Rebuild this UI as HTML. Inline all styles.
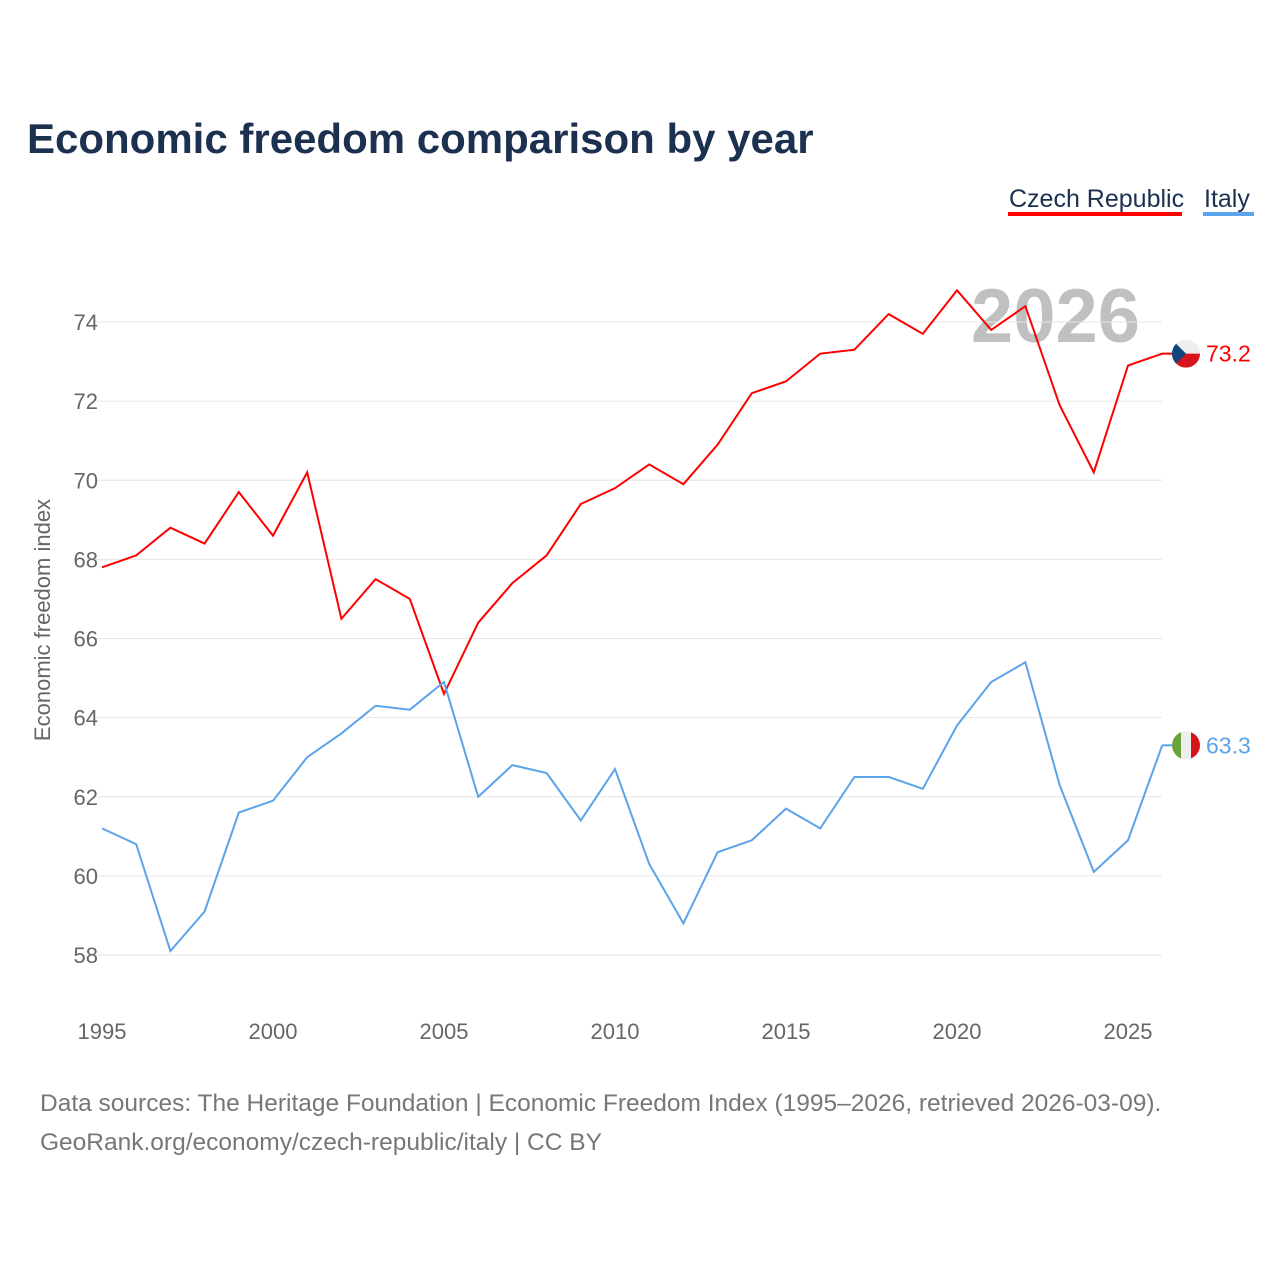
<!DOCTYPE html>
<html><head><meta charset="utf-8">
<style>
body{margin:0;background:#fff;font-family:"Liberation Sans",sans-serif;}
svg text{font-family:"Liberation Sans",sans-serif;}
</style></head>
<body>
<svg id="chart" width="1280" height="1280" viewBox="0 0 1280 1280">
<text x="27" y="153" font-size="42" font-weight="bold" fill="#1c3050">Economic freedom comparison by year</text>
<g>
<text x="1009" y="207" font-size="25" fill="#1c3050">Czech Republic</text>
<rect x="1008" y="212" width="174" height="4" fill="#ff0000"/>
<text x="1204" y="207" font-size="25" fill="#1c3050">Italy</text>
<rect x="1203" y="212" width="51" height="4" fill="#5ba3ea"/>
</g>
<text x="1140" y="342" text-anchor="end" font-size="76" font-weight="bold" fill="#c0c0c0">2026</text>
<g id="grid"></g><g id="yt"></g><g id="xt"></g><g id="lines"></g>
<text transform="translate(50,620) rotate(-90)" text-anchor="middle" font-size="22" fill="#666">Economic freedom index</text>
<text x="40" y="1111" font-size="24.5" fill="#777">Data sources: The Heritage Foundation | Economic Freedom Index (1995–2026, retrieved 2026-03-09).</text>
<text x="40" y="1150" font-size="24.5" fill="#777">GeoRank.org/economy/czech-republic/italy | CC BY</text>
</svg>
<script>
const years=[1995,1996,1997,1998,1999,2000,2001,2002,2003,2004,2005,2006,2007,2008,2009,2010,2011,2012,2013,2014,2015,2016,2017,2018,2019,2020,2021,2022,2023,2024,2025,2026];
const czech=[67.8,68.1,68.8,68.4,69.7,68.6,70.2,66.5,67.5,67.0,64.6,66.4,67.4,68.1,69.4,69.8,70.4,69.9,70.9,72.2,72.5,73.2,73.3,74.2,73.7,74.8,73.8,74.4,71.9,70.2,72.9,73.2];
const italy=[61.2,60.8,58.1,59.1,61.6,61.9,63.0,63.6,64.3,64.2,64.9,62.0,62.8,62.6,61.4,62.7,60.3,58.8,60.6,60.9,61.7,61.2,62.5,62.5,62.2,63.8,64.9,65.4,62.3,60.1,60.9,63.3];
const yTicks=[58,60,62,64,66,68,70,72,74];
const xTicks=[1995,2000,2005,2010,2015,2020,2025];
const NS="http://www.w3.org/2000/svg";
const X=y=>102+(y-1995)*(1128-102)/30;
const Y=v=>955-(v-58)*(955-322)/16;
function mk(tag,attrs,parent){const e=document.createElementNS(NS,tag);for(const k in attrs)e.setAttribute(k,attrs[k]);document.getElementById(parent).appendChild(e);return e;}
yTicks.forEach(t=>{
 const l=mk('line',{x1:95,x2:1162,y1:Y(t),y2:Y(t),stroke:'#e6e6e6','stroke-width':1},'grid');
 
 
 const tx=mk('text',{x:98,y:Y(t)+8,'text-anchor':'end','font-size':22,fill:'#666'},'yt');
 tx.textContent=t;
 
 
});
xTicks.forEach(t=>{
 const tx=mk('text',{x:X(t),y:1039,'text-anchor':'middle','font-size':22,fill:'#666'},'xt');
 tx.textContent=t;
 
 
});
function series(vals,color,name,flag){
 const p=mk('polyline',{points:vals.map((v,i)=>X(years[i])+','+Y(v)).join(' '),fill:'none',stroke:color,'stroke-width':2},'lines');
 
 
 const lv=vals[vals.length-1],ly=Y(lv);
 const c=mk('line',{x1:1162,x2:1172,y1:ly,y2:ly,stroke:color,'stroke-width':2},'lines');
 
 
 const g=mk('g',{},'lines');
 
 
 g.innerHTML=flag(1186,ly);
 const t=mk('text',{x:1206,y:ly+8,'font-size':23,fill:color},'lines');
 t.textContent=lv.toFixed(1);
 
 
}
series(czech,'#ff0000','czech',(cx,cy)=>`<clipPath id="cc"><circle cx="${cx}" cy="${cy}" r="14"/></clipPath><g clip-path="url(#cc)"><rect x="${cx-14}" y="${cy-14}" width="28" height="14" fill="#eee"/><rect x="${cx-14}" y="${cy}" width="28" height="14" fill="#d7141a"/><polygon points="${cx-14},${cy-14} ${cx},${cy} ${cx-14},${cy+14}" fill="#11457e"/></g>`);
series(italy,'#5ba3ea','italy',(cx,cy)=>`<clipPath id="ci"><circle cx="${cx}" cy="${cy}" r="14"/></clipPath><g clip-path="url(#ci)"><rect x="${cx-14}" y="${cy-14}" width="10" height="28" fill="#6aa33a"/><rect x="${cx-5}" y="${cy-14}" width="10" height="28" fill="#eee"/><rect x="${cx+5}" y="${cy-14}" width="10" height="28" fill="#d7141a"/></g>`);
</script>
</body></html>
